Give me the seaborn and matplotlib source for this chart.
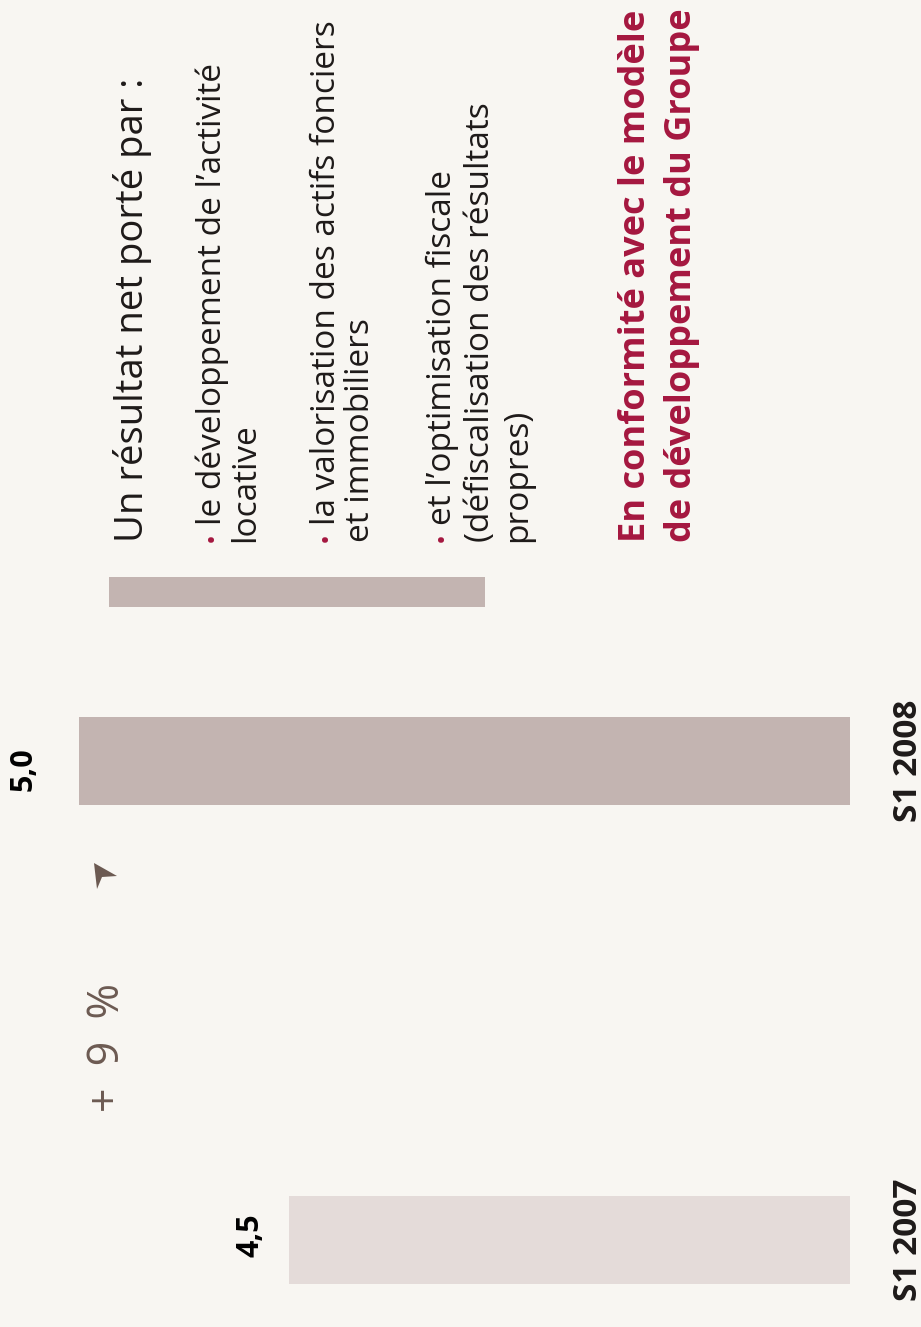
import matplotlib
matplotlib.use("Agg")
import matplotlib.pyplot as plt
from matplotlib.patches import Rectangle, Polygon
import seaborn as sns
import pandas as pd

# ---- data ----
periods = ["S1 2007", "S1 2008"]
values = [4.5, 5.0]
value_labels = ["4,5", "5,0"]
growth_label = "+  9  %"

title_line = "Un résultat net porté par :"
bullets = [
    ["le développement de l’activité", "locative"],
    ["la valorisation des actifs fonciers", "et immobiliers"],
    ["et l’optimisation fiscale", "(défiscalisation des résultats", "propres)"],
]
conclusion = ["En conformité avec le modèle", "de développement du Groupe"]

# ---- style ----
BG = "#F8F6F2"
BAR_COLORS = {"S1 2007": "#E4DBD9", "S1 2008": "#C3B4B1"}
DARK = "#1E1A19"
RED = "#A5173F"
BROWN = "#6C5A52"

sns.set_theme(style="white")
plt.rcParams["font.family"] = ["Open Sans", "DejaVu Sans"]

W, H = 921, 1327
fig = plt.figure(figsize=(W / 100, H / 100), dpi=100, facecolor=BG)

def fx(px):
    return px / W

def fy(py):
    return 1 - py / H

# ---- bar chart (drawn sideways, bars growing to the left) ----
ax = fig.add_axes([0, 0, 850 / W, 1])
ax.set_facecolor(BG)
df = pd.DataFrame({"period": periods, "value": values})
sns.barplot(data=df, x="value", y="period", hue="period", order=periods,
            palette=BAR_COLORS, orient="h", width=0.184, legend=False,
            saturation=1, linewidth=0, edgecolor="none", ax=ax)
ax.set_xlim(5.188, 3.164)
ax.set_ylim(-0.182, 2.589)
ax.set_xlabel("")
ax.set_ylabel("")
ax.set_xticks([])
for s in ax.spines.values():
    s.set_visible(False)
ax.yaxis.tick_right()
ax.tick_params(axis="y", length=0, pad=30, labelsize=24, labelcolor=DARK)
for lab in ax.get_yticklabels():
    lab.set_rotation(90)
    lab.set_fontweight("bold")
    lab.set_va("center")
    lab.set_ha("left")

# value labels at the end of each bar
label_offsets = [(-17, 3), (-29, -6)]
for i, (v, txt) in enumerate(zip(values, value_labels)):
    ax.annotate(txt, xy=(v, i), xytext=label_offsets[i], textcoords="offset points",
                rotation=90, ha="right", va="center", fontsize=22,
                fontweight="bold", color="black")

# growth annotation
fig.text(fx(108), fy(1112), growth_label, rotation=90, rotation_mode="anchor",
         ha="left", va="center", fontsize=31, color=BROWN)
fig.patches.append(Polygon(
    [(fx(94), fy(863)), (fx(117), fy(876)), (fx(102), fy(877)), (fx(97), fy(889))],
    closed=True, transform=fig.transFigure, facecolor=BROWN, edgecolor="none"))

# separator band
fig.patches.append(Rectangle((fx(109), fy(607)), fx(485) - fx(109), (607 - 577) / H,
                             transform=fig.transFigure, facecolor="#C3B4B1",
                             edgecolor="none"))

# ---- commentary text ----
fig.text(fx(132), fy(542), title_line, rotation=90, rotation_mode="anchor",
         ha="left", va="center", fontsize=27.5, color=DARK)

bullet_x = [[212, 246], [326, 360], [442, 480, 518]]
for lines, xs in zip(bullets, bullet_x):
    fig.text(fx(xs[0]), fy(537), "•", rotation=90, rotation_mode="anchor",
             ha="center", va="center", fontsize=19, color=RED)
    for k, (line, x) in enumerate(zip(lines, xs)):
        start = 525 if k == 0 else 542
        fig.text(fx(x), fy(start), line, rotation=90, rotation_mode="anchor",
                 ha="left", va="center", fontsize=24, color=DARK)

for line, x in zip(conclusion, [636, 682]):
    fig.text(fx(x), fy(542), line, rotation=90, rotation_mode="anchor",
             ha="left", va="center", fontsize=26, fontweight="bold", color=RED)

fig.savefig("out.png", dpi=100, facecolor=BG)
